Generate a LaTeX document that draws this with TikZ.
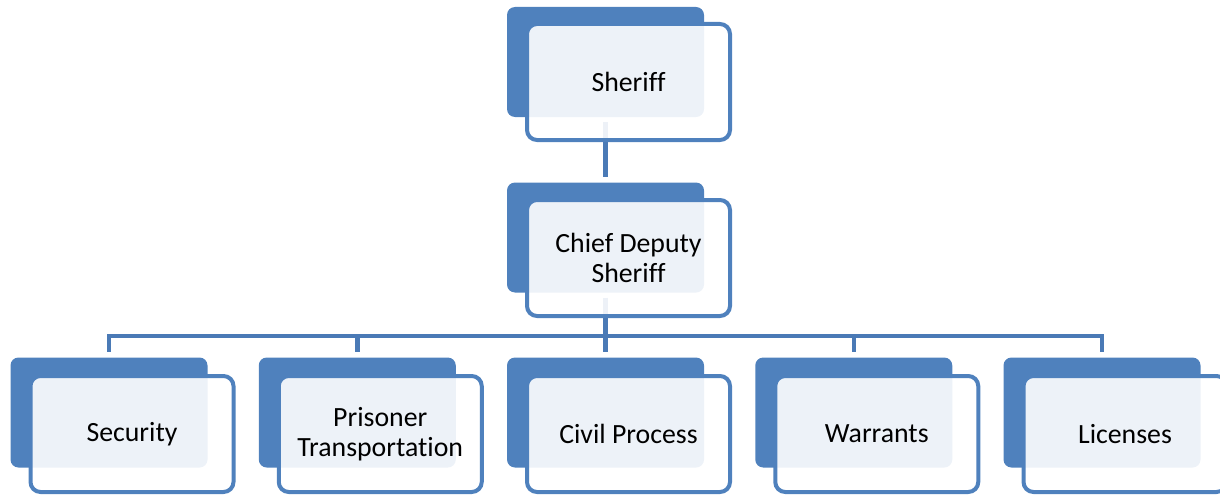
\documentclass[tikz,border=0pt]{standalone}
\usepackage{fontspec}
\setmainfont{Carlito}[Ligatures=NoCommon]
\definecolor{orgblue}{RGB}{79,129,189}
\definecolor{linkblue}{RGB}{74,122,182}
\usetikzlibrary{backgrounds}

\begin{document}
\begin{tikzpicture}[x=1pt, y=-1pt,
  backbox/.style={
    fill=orgblue, rounded corners=8pt, inner sep=0pt,
    minimum width=197pt, minimum height=110pt
  },
  frontbox/.style={
    draw=orgblue, line width=4pt, rounded corners=10pt,
    fill=white, fill opacity=0.9, text opacity=1,
    minimum width=203pt, minimum height=116pt, inner sep=0pt,
    align=center, font=\fontsize{27.8}{30}\selectfont
  },
  link/.style={draw=linkblue, line width=4.5pt}
]
\useasboundingbox (0,0) rectangle (1220,495);

\node[backbox] (sheriff) at (605.5,62) {};
\node[frontbox] (sheriffT) at (628.5,82) {Sheriff};
\node[backbox] (chief) at (605.5,237.5) {};
\node[frontbox] (chiefT) at (628.5,258) {Chief Deputy\\Sheriff};

\node[backbox] (sec) at (109,412.5) {};
\node[frontbox] (secT) at (132,434) {Security};
\node[backbox] (trans) at (357.25,412.5) {};
\node[frontbox] (transT) at (380.25,434) {Prisoner\\Transportation};
\node[backbox] (civil) at (605.5,412.5) {};
\node[frontbox] (civilT) at (628.5,434) {Civil Process};
\node[backbox] (warr) at (853.75,412.5) {};
\node[frontbox] (warrT) at (876.75,434) {Warrants};
\node[backbox] (lic) at (1102,412.5) {};
\node[frontbox] (licT) at (1125,434) {Licenses};

\begin{scope}[on background layer]
\coordinate (bus) at (605.5,336);
\draw[link, shorten <=5pt, shorten >=5pt] (sheriff.south) -- (chief.north);
\draw[link, shorten <=5pt] (chief.south) -- (bus);
\draw[link, shorten >=5pt] (bus) -| (sec.north);
\draw[link, shorten >=5pt] (bus) -| (trans.north);
\draw[link, shorten >=5pt] (bus) -- (civil.north);
\draw[link, shorten >=5pt] (bus) -| (warr.north);
\draw[link, shorten >=5pt] (bus) -| (lic.north);
\end{scope}
\end{tikzpicture}
\end{document}
